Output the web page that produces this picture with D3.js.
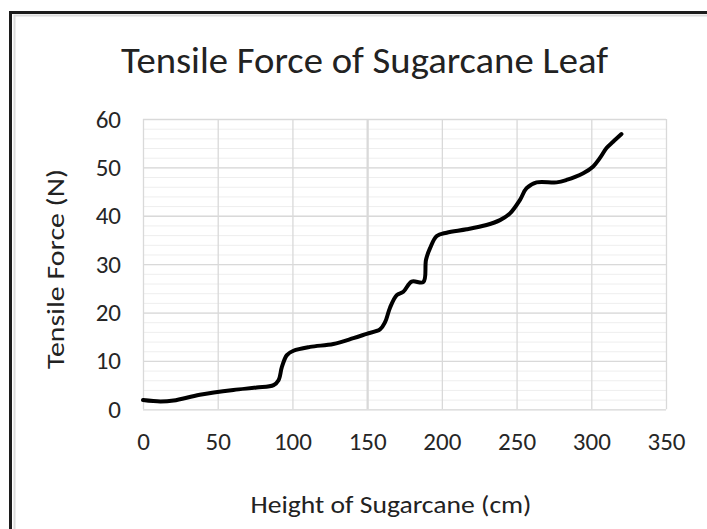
<!DOCTYPE html>
<html lang="en">
  <head>
    <meta charset="UTF-8" />
    <title>Tensile Force of Sugarcane Leaf</title>
    <script src="https://cdn.jsdelivr.net/npm/d3@7"></script>
    <style>
      body {
        margin: 0;
        background: #fff;
      }
      svg text {
        font-family: Carlito, 'Noto Sans', sans-serif;
        fill: #222;
      }
      .grid line {
        stroke: #d9d9d9;
        stroke-width: 1.3px;
      }
      .grid--minor line {
        stroke: #eeeeee;
        stroke-width: 1px;
      }
      .tick text {
        font-size: 25px;
        fill: #262626;
      }
      .curve {
        fill: none;
        stroke: #000;
        stroke-width: 4px;
        stroke-linejoin: round;
        stroke-linecap: round;
      }
    </style>
  </head>
  <body>
    <svg width="707" height="529"></svg>
    <script>
      // data
      const heightCm = [0, 11.6, 20.5, 38, 60.5, 76, 87.4, 90.7, 93, 96.3, 100.7, 111.8, 127.4,
        140.8, 149.7, 158.6, 162, 165.3, 169.8, 174.2, 179.8, 187.6, 189.4, 192.1, 196.6,
        203.2, 216.6, 229.9, 238.9, 245.6, 252.3, 256.7, 263.4, 276.8, 283.4, 294.6, 301.3,
        305.7, 310.2, 314.6, 320.2];
      const forceN = [1.9, 1.6, 1.8, 3.0, 4.0, 4.5, 5.0, 6.0, 8.8, 11.2, 12.1, 12.9, 13.5,
        14.7, 15.6, 16.5, 18.0, 21.0, 23.6, 24.3, 26.4, 26.3, 30.9, 33.3, 35.8,
        36.5, 37.2, 38.1, 39.1, 40.5, 43.3, 45.7, 46.9, 46.9, 47.4, 48.8, 50.2,
        51.9, 54.0, 55.3, 56.9];
      const xTicks = [0, 50, 100, 150, 200, 250, 300, 350];
      const yTicks = [0, 10, 20, 30, 40, 50, 60];
      const yMinor = d3.range(0, 61, 2);

      var svg = d3.select('svg');
      var plotLeft = 143, plotRight = 666, plotTop = 119, plotBottom = 409.3;

      var x = d3.scaleLinear().domain([0, 350]).range([plotLeft, plotRight]);
      var y = d3.scaleLinear().domain([0, 60]).range([plotBottom, plotTop]);

      // frame
      svg.append('rect')
        .attr('x', 10.5).attr('y', 12.5).attr('width', 800).attr('height', 600)
        .attr('fill', '#fff').attr('stroke', '#1c1c1c').attr('stroke-width', 3);
      svg.append('rect')
        .attr('x', 14.5).attr('y', 15.5).attr('width', 800).attr('height', 600)
        .attr('fill', 'none').attr('stroke', '#dcdcdc').attr('stroke-width', 2);

      // minor horizontal grid
      svg.append('g')
        .attr('class', 'grid grid--minor')
        .attr('transform', 'translate(' + plotLeft + ',0)')
        .call(d3.axisLeft(y).tickValues(yMinor).tickSize(-(plotRight - plotLeft)).tickFormat(''))
        .call(g => g.select('.domain').remove());

      // major vertical grid + x labels
      svg.append('g')
        .attr('class', 'grid')
        .attr('transform', 'translate(0,' + plotBottom + ')')
        .call(d3.axisBottom(x).tickValues(xTicks).tickSize(-(plotBottom - plotTop)).tickPadding(23).tickFormat(d3.format('d')))
        .call(g => g.select('.domain').remove())
        .call(g => g.selectAll('.tick line').filter(d => d === 150).style('stroke-width', '2.3px'));

      // major horizontal grid + y labels
      svg.append('g')
        .attr('class', 'grid')
        .attr('transform', 'translate(' + plotLeft + ',0)')
        .call(d3.axisLeft(y).tickValues(yTicks).tickSize(-(plotRight - plotLeft)).tickPadding(22).tickFormat(d3.format('d')))
        .call(g => g.select('.domain').remove());

      var line = d3.line()
        .x((d, i) => x(heightCm[i]))
        .y(d => y(d))
        .curve(d3.curveCatmullRom.alpha(0.5));

      svg.append('path')
        .attr('class', 'curve')
        .attr('d', line(forceN));

      // titles
      svg.append('text')
        .attr('x', 364.5).attr('y', 73)
        .attr('text-anchor', 'middle')
        .attr('font-size', 36)
        .attr('textLength', 487).attr('lengthAdjust', 'spacingAndGlyphs')
        .text('Tensile Force of Sugarcane Leaf');

      svg.append('text')
        .attr('x', 391).attr('y', 513)
        .attr('text-anchor', 'middle')
        .attr('font-size', 25)
        .attr('textLength', 281).attr('lengthAdjust', 'spacingAndGlyphs')
        .text('Height of Sugarcane (cm)');

      svg.append('text')
        .attr('transform', 'translate(64,269) rotate(-90)')
        .attr('text-anchor', 'middle')
        .attr('font-size', 25)
        .attr('textLength', 200).attr('lengthAdjust', 'spacingAndGlyphs')
        .text('Tensile Force (N)');
    </script>
  </body>
</html>
